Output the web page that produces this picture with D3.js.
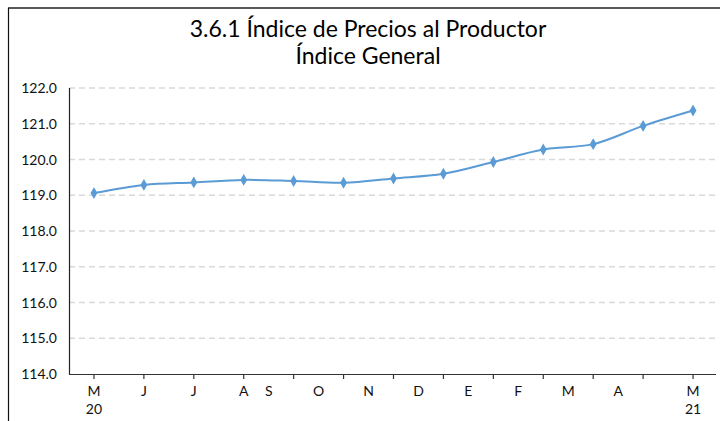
<!DOCTYPE html>
<html>
<head>
<meta charset="utf-8">
<script src="https://cdn.jsdelivr.net/npm/d3@7"></script>
<style>
  body { margin: 0; background: #fff; }
  svg { font-family: Lato, "Open Sans", sans-serif; }
  .grid line { stroke: #d9d9d9; stroke-dasharray: 6,4; stroke-width: 1.3; }
</style>
</head>
<body>
<svg id="chart" width="720" height="421"></svg>
<script>
var months = ['M', 'J', 'J', 'A', 'S', 'O', 'N', 'D', 'E', 'F', 'M', 'A', 'M']
var years = ['20', '', '', '', '', '', '', '', '', '', '', '', '21']
var values = [119.06, 119.29, 119.36, 119.43, 119.40, 119.35, 119.47, 119.60, 119.93, 120.28, 120.43, 120.94, 121.37]
var yTicks = [114, 115, 116, 117, 118, 119, 120, 121, 122]

var svg = d3.select('#chart')
var plotLeft = 69, plotRight = 718, plotTop = 88, plotBottom = 374

// frame
svg.append('line').attr('x1', 8).attr('x2', 720).attr('y1', 8).attr('y2', 8)
    .attr('stroke', '#222').attr('stroke-width', 1.5)
svg.append('line').attr('x1', 8.5).attr('x2', 8.5).attr('y1', 8).attr('y2', 421)
    .attr('stroke', '#111').attr('stroke-width', 1.2)

svg.append('text').attr('x', 368).attr('y', 37).attr('text-anchor', 'middle')
    .attr('font-size', 23).attr('fill', '#000').text('3.6.1 Índice de Precios al Productor')
svg.append('text').attr('x', 368).attr('y', 64).attr('text-anchor', 'middle')
    .attr('font-size', 23).attr('fill', '#000').text('Índice General')

var x = d3.scalePoint().domain(d3.range(values.length)).range([plotLeft, plotRight]).padding(0.5)
var step = x.step()
var y = d3.scaleLinear().domain([114, 122]).range([plotBottom, plotTop])

// gridlines
svg.append('g').attr('class', 'grid')
    .selectAll('line')
    .data(yTicks.filter(function(d) { return d > 114; }))
    .enter()
        .append('line')
        .attr('x1', plotLeft).attr('x2', plotRight)
        .attr('y1', function(d) { return y(d); })
        .attr('y2', function(d) { return y(d); })

// y axis labels
svg.append('g')
    .selectAll('text')
    .data(yTicks)
    .enter()
        .append('text')
        .attr('x', 57)
        .attr('y', function(d) { return y(d) + 5; })
        .attr('text-anchor', 'end')
        .attr('font-size', 14)
        .attr('fill', '#111')
        .text(function(d) { return d.toFixed(1); })

svg.append('line').attr('x1', plotLeft + 0.5).attr('x2', plotLeft + 0.5).attr('y1', plotTop).attr('y2', plotBottom)
    .attr('stroke', '#222').attr('stroke-width', 1.2)
svg.append('line').attr('x1', plotLeft).attr('x2', 716).attr('y1', plotBottom + 0.5).attr('y2', plotBottom + 0.5)
    .attr('stroke', '#333').attr('stroke-width', 1.2)

// x ticks
svg.append('g')
    .selectAll('line')
    .data(values)
    .enter()
        .append('line')
        .attr('x1', function(d, i) { return x(i); })
        .attr('x2', function(d, i) { return x(i); })
        .attr('y1', plotBottom).attr('y2', plotBottom + 5)
        .attr('stroke', '#333').attr('stroke-width', 1.2)

// month labels: the middle ones sit between ticks in the original
function labelX(i) {
    if (i >= 4 && i <= 11) return x(i) - step / 2
    return x(i)
}
svg.append('g')
    .selectAll('text')
    .data(months)
    .enter()
        .append('text')
        .attr('x', function(d, i) { return labelX(i); })
        .attr('y', 396)
        .attr('text-anchor', 'middle')
        .attr('font-size', 14)
        .attr('fill', '#111')
        .text(function(d) { return d; })
svg.append('g')
    .selectAll('text')
    .data(years)
    .enter()
        .append('text')
        .attr('x', function(d, i) { return x(i); })
        .attr('y', 414)
        .attr('text-anchor', 'middle')
        .attr('font-size', 14)
        .attr('fill', '#111')
        .text(function(d) { return d; })

var line = d3.line()
    .x(function(d, i) { return x(i); })
    .y(function(d) { return y(d); })
    .curve(d3.curveCatmullRom.alpha(0.5))
svg.append('path').datum(values)
    .attr('d', line)
    .attr('fill', 'none')
    .attr('stroke', '#5b9bd5')
    .attr('stroke-width', 2)

svg.append('g')
    .selectAll('path')
    .data(values)
    .enter()
        .append('path')
        .attr('transform', function(d, i) { return 'translate(' + x(i) + ',' + y(d) + ')'; })
        .attr('d', d3.symbol().type(d3.symbolDiamond).size(26))
        .attr('fill', '#5b9bd5')
        .attr('stroke', '#5b9bd5')
        .attr('stroke-width', 1.2)
</script>
</body>
</html>
